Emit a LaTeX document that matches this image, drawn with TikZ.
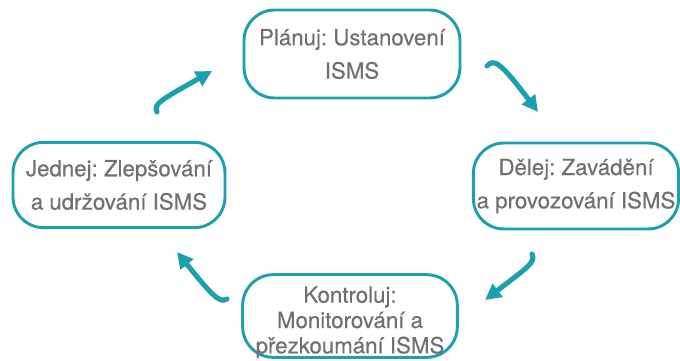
\documentclass[tikz,border=0pt]{standalone}
\usepackage{fontspec}
\setmainfont{TeX Gyre Heros}[FakeBold=0.35]
\usepackage{xcolor}
\usepackage{tikz}
\usetikzlibrary{arrows.meta}
\definecolor{ismsteal}{HTML}{1BA0AC}
\definecolor{ismsgrey}{HTML}{707072}
\frenchspacing

\tikzset{
	phase/.style={draw=ismsteal, line width=2.2pt, rounded corners=23pt,
		inner sep=0pt, align=center, text=ismsgrey},
	flow/.style={draw=ismsteal, line width=3.8pt, line cap=round,
		-{Triangle[length=12pt,width=12pt]}},
}

\begin{document}
\begin{tikzpicture}[x=0.75pt, y=-0.75pt,
		font=\fontsize{16.7}{25}\selectfont]
		\useasboundingbox (0,0) rectangle (680,360);
		% the four phases
		\node[phase, minimum width=162pt, minimum height=66pt] (plan) at (352,54)
			{Plánuj: Ustanovení\\ ISMS};
		\node[phase, minimum width=154pt, minimum height=64.5pt] (do) at (576,186)
			{Dělej: Zavádění\\ a provozování ISMS};
		\node[phase, minimum width=159pt, minimum height=64pt] (act) at (119,185)
			{Jednej: Zlepšování\\ a udržování ISMS};
		\node[phase, minimum width=161pt, minimum height=62pt,
			text height=56pt, text depth=-2.5pt,
			font=\fontsize{16.7}{19}\selectfont] (check) at (350,316)
			{Kontroluj:\\ Monitorování a\\ přezkoumání ISMS};
		% arrow ends
		\coordinate (p1) at (487,66);  \coordinate (d1) at (538,112);
		\coordinate (d2) at (532,254); \coordinate (c2) at (485,300);
		\coordinate (c3) at (227,299); \coordinate (a3) at (177,252);
		\coordinate (a4) at (157,112); \coordinate (p4) at (212,71);
		% cycle
		\draw[flow] (p1) .. controls (494,58) and (501,63) .. (d1);
		\draw[flow] (d2) .. controls (536,262) and (528,267) .. (c2);
		\draw[flow] (c3) .. controls (220,303) and (214,298) .. (a3);
		\draw[flow] (a4) .. controls (153,104) and (161,100) .. (p4);
\end{tikzpicture}
\end{document}
